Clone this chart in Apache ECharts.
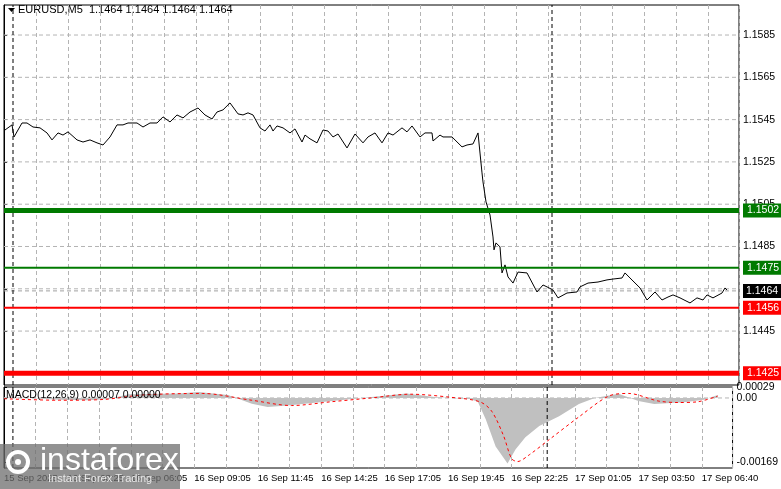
<!DOCTYPE html>
<html><head><meta charset="utf-8">
<script src="https://cdn.jsdelivr.net/npm/echarts@6/dist/echarts.min.js"></script>
<style>html,body{margin:0;padding:0;background:#fff}#c{width:781px;height:489px}</style>
</head><body><div id="c"></div>
<script>
const barIdx=[0.5,4,5,9,11.5,14.5,18,21.5,24,27,29.5,32,36.5,39.5,43,46.5,49.5,53,56.5,59.5,62,66.5,69.5,73,76.5,79.5,83,86.5,89.5,93,97,100.5,104,106.5,109.5,113,117,119.5,122,124.5,128,130.5,133,134.5,136.5,139.5,143,145.5,149,150.5,153,156.5,159.5,162,164.5,167,171.5,175.5,179.5,182,185.5,189,192,194.5,199,201.5,204,208,210.5,214,214.5,218,219.5,224,229,231.5,234.5,237,238,239,239.5,241,243,244.5,245,246,248,249,250.5,252,254.5,257,261.5,266.5,269.5,271.5,274.5,277,281.5,286.5,288,292,297,301.5,304.5,309,310.5,313,318,321.5,323,325.5,329,332,334.5,338,343,346.5,349.5,351.5,354.5,359,360.5,361.5];
const closes=[1.15401,1.15425,1.15368,1.15434,1.15434,1.15415,1.15411,1.15387,1.15354,1.15387,1.15377,1.15392,1.15354,1.15344,1.15354,1.15340,1.15330,1.15368,1.15425,1.15425,1.15434,1.15434,1.15415,1.15434,1.15434,1.15463,1.15439,1.15472,1.15458,1.15486,1.15505,1.15472,1.15453,1.15486,1.15496,1.15529,1.15477,1.15472,1.15482,1.15472,1.15411,1.15396,1.15425,1.15396,1.15420,1.15411,1.15387,1.15406,1.15344,1.15377,1.15359,1.15340,1.15401,1.15396,1.15368,1.15382,1.15316,1.15382,1.15340,1.15368,1.15387,1.15340,1.15387,1.15377,1.15411,1.15392,1.15420,1.15368,1.15387,1.15387,1.15349,1.15377,1.15368,1.15368,1.15321,1.15330,1.15335,1.15387,1.15292,1.15198,1.15155,1.15061,1.14999,1.14895,1.14834,1.14867,1.14848,1.14725,1.14763,1.14706,1.14677,1.14729,1.14725,1.14635,1.14668,1.14659,1.14644,1.14607,1.14630,1.14635,1.14659,1.14677,1.14682,1.14692,1.14696,1.14701,1.14725,1.14701,1.14654,1.14597,1.14611,1.14635,1.14597,1.14611,1.14621,1.14607,1.14583,1.14607,1.14597,1.14621,1.14607,1.14630,1.14654,1.14644];
const histIdx=[0,13,28,43,53,63,88,98,113,125,133,143,158,173,188,203,218,235,239,243,248,254,258,263,270,280,290,298,310,320,328,343,353,360];
const histVals=[0.00002,0,-0.00005,-0.00006,-0.00002,0.00010,0.00012,0.00016,0.00008,-0.00015,-0.00024,-0.00020,-0.00012,-0.00004,0.00004,0.00012,0.00002,-0.00003,-0.00010,-0.00056,-0.00128,-0.00173,-0.00136,-0.00104,-0.00074,-0.00048,-0.00016,0,0.00011,-0.00008,-0.00016,-0.00011,-0.00005,0.00008];
const sigIdx=[0,28,50,70,100,125,145,165,185,205,225,240,246,252,256,259,265,275,290,305,315,330,340,350,360];
const sigVals=[-0.00002,-0.00006,-0.00004,0.00008,0.00012,-0.00006,-0.00020,-0.00010,0,0.00010,0.00002,-0.00010,-0.00035,-0.00100,-0.00160,-0.00168,-0.00150,-0.00110,-0.00050,0.00005,0.00012,-0.00008,-0.00012,-0.00010,0.00005];
const timeLabels={0:'15 Sep 2025',32:'16 Sep 03:25',64:'16 Sep 06:05',96:'16 Sep 09:05',128:'16 Sep 11:45',160:'16 Sep 14:25',192:'16 Sep 17:05',224:'16 Sep 19:45',256:'16 Sep 22:25',288:'17 Sep 01:05',320:'17 Sep 03:50',352:'17 Sep 06:40'};
const priceTicks=[1.1445,1.1465,1.1485,1.1505,1.1525,1.1545,1.1565,1.1585];
const levels=[{v:1.1502,c:'#007a00',w:5},{v:1.1475,c:'#007a00',w:2},{v:1.1456,c:'#ff0000',w:2},{v:1.1425,c:'#ff0000',w:5}];
const lastPrice=1.1464;
const daySeps=[4.5,274];
const macdTicks=[0.00029,0,-0.00169];

const F='"Liberation Sans", sans-serif';
const XMAX=367.5;
const zip=(a,b)=>a.map((x,i)=>[x,b[i]]);
const xBase={type:'value',min:0,max:XMAX,interval:16,axisLine:{show:false},axisTick:{show:false},
  splitLine:{show:true,lineStyle:{color:'#b4b4b4',type:[4,3],width:1}}};
const hline=(v,color,width,type,z,label)=>({type:'line',xAxisIndex:0,yAxisIndex:0,data:[[0,v],[XMAX,v]],symbol:'none',silent:true,
  lineStyle:{color,width,type},z,endLabel:label?Object.assign({show:true,distance:4,fontFamily:F,fontSize:10.5,color:'#fff',formatter:v.toFixed(4)},label):{show:false}});
const vline=(x,xi,yi,lo,hi)=>({type:'line',xAxisIndex:xi,yAxisIndex:yi,data:[[x,lo],[x,hi]],symbol:'none',silent:true,lineStyle:{color:'#000',width:1,type:[4,3]},z:3});
const series=[
  ...priceTicks.map(v=>hline(v,'#b4b4b4',1,[4,3],1,null)),
  ...daySeps.map(x=>vline(x,0,0,1.14195,1.15992)),
  ...daySeps.map(x=>vline(x,1,1,-0.00185,0.00029)),
  hline(lastPrice,'#a0a0a0',1,[4,3],2,{backgroundColor:'#000',padding:[2,3,1,3]}),
  {type:'line',xAxisIndex:0,yAxisIndex:0,data:zip(barIdx,closes),symbol:'none',lineStyle:{color:'#000',width:1},z:5},
  ...levels.map(l=>hline(l.v,l.c,l.w,'solid',6,{backgroundColor:l.c,padding:[2,4,1,4]})),
  {type:'line',xAxisIndex:1,yAxisIndex:1,data:[[0,0],[XMAX,0]],symbol:'none',silent:true,lineStyle:{color:'#b4b4b4',width:1,type:[4,3]},z:1},
  {type:'line',xAxisIndex:1,yAxisIndex:1,data:zip(histIdx,histVals),symbol:'none',lineStyle:{width:0},
   areaStyle:{color:'#c0c0c0',opacity:1,origin:0},z:2},
  {type:'line',xAxisIndex:1,yAxisIndex:1,data:zip(sigIdx,sigVals),symbol:'none',smooth:0.3,
   lineStyle:{color:'#ff0000',width:1,type:[3,3]},z:4}
];
const chart=echarts.init(document.getElementById('c'),null,{renderer:'canvas'});
chart.setOption({
  animation:false,
  grid:[{left:4,top:5,width:735,height:380,show:true,borderColor:'#000',borderWidth:1,containLabel:false},
        {left:4,top:387,width:735,height:81,show:true,borderColor:'#000',borderWidth:1,containLabel:false}],
  xAxis:[Object.assign({gridIndex:0,axisLabel:{show:false}},xBase),
         Object.assign({gridIndex:1,axisLabel:{show:true,align:'left',margin:5,fontFamily:F,fontSize:9.5,color:'#000',
           formatter:v=>timeLabels[v]||''}},xBase)],
  yAxis:[{gridIndex:0,type:'value',position:'right',min:1.14195,max:1.15992,
      axisLine:{show:true,lineStyle:{color:'#000'}},
      axisTick:{show:true,length:3,customValues:priceTicks,lineStyle:{color:'#000'}},
      axisLabel:{show:true,margin:4,fontFamily:F,fontSize:10.5,color:'#000',customValues:priceTicks,formatter:v=>v.toFixed(4)},
      splitLine:{show:false}},
    {gridIndex:1,type:'value',position:'right',min:-0.00185,max:0.00029,
      axisLine:{show:true,lineStyle:{color:'#000'}},
      axisTick:{show:true,length:3,customValues:macdTicks},
      axisLabel:{show:true,margin:4,fontFamily:F,fontSize:10.5,color:'#000',customValues:macdTicks,
        formatter:v=>v===0?'0.00':v.toFixed(5)},
      splitLine:{show:false}}],
  series,
  graphic:[
    {type:'polygon',shape:{points:[[8,8],[15,8],[11.5,12]]},style:{fill:'#000'}},
    {type:'text',left:18,top:4,style:{text:'EURUSD,M5  1.1464 1.1464 1.1464 1.1464',font:'11px '+F,fill:'#000'}},
    {type:'text',left:6,top:390,style:{text:'MACD(12,26,9) 0.00007 0.00000',font:'10.5px '+F,fill:'#000'},z:10},
    {type:'rect',shape:{x:0,y:444,width:180,height:45},style:{fill:'rgba(110,110,110,0.75)'},z:100},
    {type:'circle',shape:{cx:18,cy:462,r:10},style:{fill:'none',stroke:'#fff',lineWidth:4},z:101},
    {type:'circle',shape:{cx:18,cy:462,r:3},style:{fill:'#fff'},z:101},
    {type:'text',left:40,top:445,style:{text:'instaforex',font:'32px '+F,fill:'#fff'},z:101},
    {type:'text',left:48,top:473,style:{text:'Instant Forex Trading',font:'11px '+F,fill:'#e8e8e8'},z:101}
  ]
});
</script></body></html>
